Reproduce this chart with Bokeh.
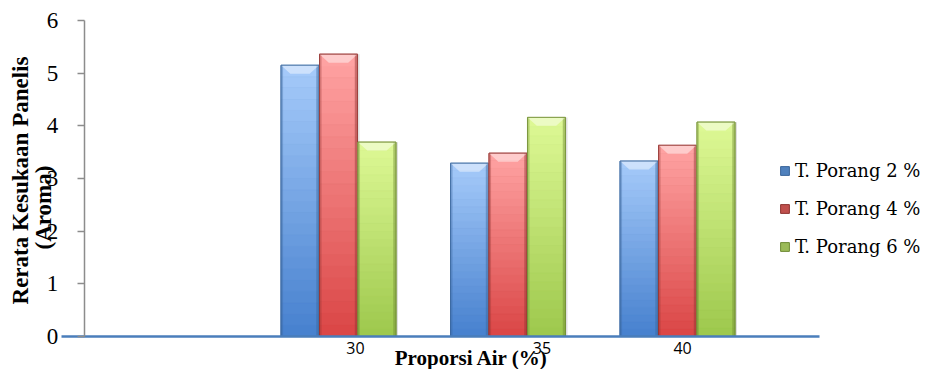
import numpy as np
from bokeh.plotting import figure
from bokeh.models import Range1d, FixedTicker, Label, Legend, LegendItem, CustomJSTickFormatter
from bokeh.embed import file_html
from bokeh.resources import INLINE

# --- data -------------------------------------------------------------
categories = ["30", "35", "40"]                      # Proporsi Air (%)
series_names = ["T. Porang 2 %", "T. Porang 4 %", "T. Porang 6 %"]
porang_2 = [5.15, 3.29, 3.33]
porang_4 = [5.36, 3.48, 3.63]
porang_6 = [3.69, 4.16, 4.07]
y_ticks = [0, 1, 2, 3, 4, 5, 6]

# --- styling ----------------------------------------------------------
# (legend colour, light top, dark bottom, outline)
palettes = [
    ("#4F81BD", "#A6CBFA", "#4680CE", "#3A659A"),
    ("#C0504D", "#FFA4A4", "#DA4545", "#8E3431"),
    ("#9BBB59", "#DEF996", "#9DC84C", "#6E8A34"),
]
SERIF = "Liberation Serif"
BAR_W = 0.224
OFFSETS = [-0.227, 0.0, 0.227]
GROUP_X = [1, 2, 3]          # slot 0 of the category axis is left empty
N_SLICES = 24


def hex_to_rgb(h):
    h = h.lstrip("#")
    return np.array([int(h[i:i + 2], 16) for i in (0, 2, 4)], dtype=float)


def rgb_to_hex(c):
    return "#%02x%02x%02x" % tuple(int(round(v)) for v in c)


# the frame fills the whole canvas; axes are pinned inside it
p = figure(width=925, height=369,
           x_range=Range1d(-0.994, 4.463), y_range=Range1d(-0.627, 6.38),
           output_backend="svg", toolbar_location=None, min_border=0)
p.outline_line_color = None
p.grid.visible = False
p.background_fill_color = "white"
p.border_fill_color = "white"

legend_items = []
for values, name, (leg_c, top_c, bot_c, edge_c), off in zip(
        [porang_2, porang_4, porang_6], series_names, palettes, OFFSETS):
    xs = [g + off for g in GROUP_X]

    # soft shadow to the right of each bar
    p.vbar(x=[x + 0.012 for x in xs], top=values, width=BAR_W, bottom=0,
           fill_color="#7F7F7F", fill_alpha=0.25, line_color=None)

    # base bar (also used as the legend swatch)
    base = p.vbar(x=xs, top=values, width=BAR_W, bottom=0,
                  fill_color=leg_c, line_color=edge_c, line_width=1)
    legend_items.append(LegendItem(label=name, renderers=[base]))

    # vertical light-to-dark shading, sliced along each bar's own height
    c_top, c_bot = hex_to_rgb(top_c), hex_to_rgb(bot_c)
    sx, sb, st, sc = [], [], [], []
    for x, v in zip(xs, values):
        for k in range(N_SLICES):
            frac = (k + 0.5) / N_SLICES
            sx.append(x)
            sb.append(v * k / N_SLICES)
            st.append(v * (k + 1) / N_SLICES)
            sc.append(rgb_to_hex(c_bot + (c_top - c_bot) * frac))
    p.vbar(x=sx, bottom=sb, top=st, width=BAR_W,
           fill_color=sc, line_color=sc, line_width=0.6)

    # darker side edges for the bevelled look
    p.vbar(x=[x - BAR_W / 2 + 0.006 for x in xs], top=values, width=0.012,
           fill_color=edge_c, fill_alpha=0.35, line_color=None)
    p.vbar(x=[x + BAR_W / 2 - 0.008 for x in xs], top=values, width=0.016,
           fill_color=edge_c, fill_alpha=0.45, line_color=None)

    # light bevel on top of each bar
    bev_h, inset = 0.16, 0.055
    pxs = [[x - BAR_W / 2, x + BAR_W / 2, x + BAR_W / 2 - inset, x - BAR_W / 2 + inset]
           for x in xs]
    pys = [[v, v, v - bev_h, v - bev_h] for v in values]
    p.patches(pxs, pys, fill_color="white", fill_alpha=0.45, line_color=None)

    # outline
    p.vbar(x=xs, top=values, width=BAR_W, fill_color=None,
           line_color=edge_c, line_width=1, line_alpha=0.8)

# --- x axis: blue baseline with category labels ------------------------
xa = p.xaxis[0]
xa.fixed_location = 0
xa.bounds = (-0.634, 3.838)
xa.ticker = FixedTicker(ticks=[1.10, 2.20, 3.03])
xa.formatter = CustomJSTickFormatter(args=dict(names=categories),
                                     code="return names[index];")
xa.axis_line_color = "#4A7EBB"
xa.axis_line_width = 2.5
xa.major_tick_out = 0
xa.major_tick_in = 0
xa.minor_tick_line_color = None
xa.major_label_standoff = 6
xa.major_label_text_font = "Open Sans"
xa.major_label_text_font_size = "16px"
xa.major_label_text_color = "black"

# --- y axis ------------------------------------------------------------
ya = p.yaxis[0]
ya.fixed_location = -0.5
ya.bounds = (0, 6)
ya.ticker = FixedTicker(ticks=y_ticks)
ya.axis_line_color = "#8C8C8C"
ya.axis_line_width = 1.5
ya.major_tick_line_color = "#8C8C8C"
ya.major_tick_line_width = 1.5
ya.major_tick_out = 7
ya.major_tick_in = 0
ya.minor_tick_line_color = None
ya.major_label_standoff = 19
ya.major_label_text_font = SERIF
ya.major_label_text_font_size = "23px"
ya.major_label_text_color = "black"

# --- axis titles -------------------------------------------------------
p.add_layout(Label(x=20, y=189, x_units="screen", y_units="screen",
                   text="Rerata Kesukaan Panelis", angle=np.pi / 2,
                   text_align="center", text_baseline="middle",
                   text_font=SERIF, text_font_style="bold",
                   text_font_size="23px", text_color="black"))
p.add_layout(Label(x=43, y=162, x_units="screen", y_units="screen",
                   text="(Aroma)", angle=np.pi / 2,
                   text_align="center", text_baseline="middle",
                   text_font=SERIF, text_font_style="bold",
                   text_font_size="23px", text_color="black"))
p.add_layout(Label(x=471, y=12, x_units="screen", y_units="screen",
                   text="Proporsi Air (%)",
                   text_align="center", text_baseline="middle",
                   text_font=SERIF, text_font_style="bold",
                   text_font_size="21px", text_color="black"))

# --- legend ------------------------------------------------------------
legend = Legend(items=legend_items, location=(779, 110),
                glyph_width=11, glyph_height=11, label_standoff=5,
                label_height=25, spacing=13, padding=0, margin=0,
                border_line_color=None, background_fill_alpha=0,
                label_text_font="DejaVu Serif", label_text_font_size="18px",
                label_text_color="black")
p.add_layout(legend)

open("out.html", "w").write(file_html(p, INLINE))
